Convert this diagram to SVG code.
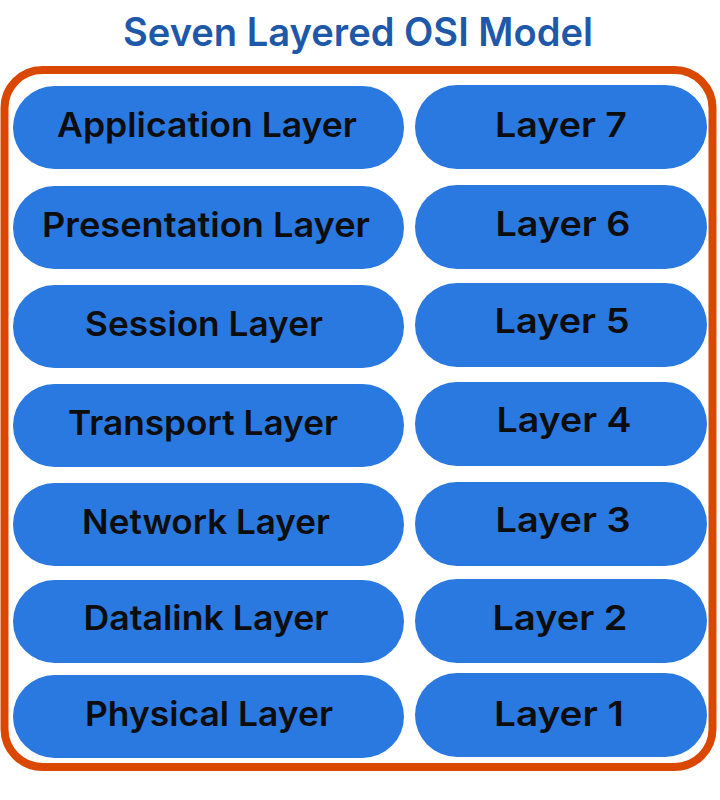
<svg xmlns="http://www.w3.org/2000/svg" width="720" height="800" viewBox="0 0 720 800">
<style>
.pill{fill:#2979e1;}
.lbl{font-family:Inter,Roboto,"Liberation Sans",sans-serif;font-weight:600;font-size:34px;fill:#0d0d0d;text-anchor:middle;}
.title{font-family:Inter,Roboto,"Liberation Sans",sans-serif;font-weight:600;font-size:39px;fill:#1e59a9;text-anchor:middle;}
</style>
<rect width="720" height="800" fill="#ffffff"/>
<text class="title" x="358" y="46" textLength="470" lengthAdjust="spacingAndGlyphs">Seven Layered OSI Model</text>
<rect id="frame" x="4.5" y="70" width="708" height="697" rx="38" fill="none" stroke="#da4800" stroke-width="8"/>
<g id="connectors"/>
<g id="application"><rect class="pill" x="13" y="86" width="391" height="83" rx="41.5"/><text class="lbl" x="207" y="137" textLength="300" lengthAdjust="spacingAndGlyphs">Application Layer</text></g>
<g id="presentation"><rect class="pill" x="13" y="186" width="391" height="83" rx="41.5"/><text class="lbl" x="206" y="237" textLength="328" lengthAdjust="spacingAndGlyphs">Presentation Layer</text></g>
<g id="session"><rect class="pill" x="13" y="285" width="391" height="83" rx="41.5"/><text class="lbl" x="204" y="336" textLength="238" lengthAdjust="spacingAndGlyphs">Session Layer</text></g>
<g id="transport"><rect class="pill" x="13" y="384" width="391" height="83" rx="41.5"/><text class="lbl" x="203" y="435" textLength="270" lengthAdjust="spacingAndGlyphs">Transport Layer</text></g>
<g id="network"><rect class="pill" x="13" y="483" width="391" height="83" rx="41.5"/><text class="lbl" x="206" y="534" textLength="248" lengthAdjust="spacingAndGlyphs">Network Layer</text></g>
<g id="datalink"><rect class="pill" x="13" y="580" width="391" height="83" rx="41.5"/><text class="lbl" x="206" y="630" textLength="245" lengthAdjust="spacingAndGlyphs">Datalink Layer</text></g>
<g id="physical"><rect class="pill" x="13" y="675" width="391" height="83" rx="41.5"/><text class="lbl" x="209" y="726" textLength="248" lengthAdjust="spacingAndGlyphs">Physical Layer</text></g>
<g id="layer7"><rect class="pill" x="415" y="85" width="292" height="84" rx="42"/><text class="lbl" x="561" y="137" textLength="132" lengthAdjust="spacingAndGlyphs">Layer 7</text></g>
<g id="layer6"><rect class="pill" x="415" y="185" width="292" height="84" rx="42"/><text class="lbl" x="563" y="236" textLength="135" lengthAdjust="spacingAndGlyphs">Layer 6</text></g>
<g id="layer5"><rect class="pill" x="415" y="283" width="292" height="84" rx="42"/><text class="lbl" x="562" y="333" textLength="135" lengthAdjust="spacingAndGlyphs">Layer 5</text></g>
<g id="layer4"><rect class="pill" x="415" y="382" width="292" height="84" rx="42"/><text class="lbl" x="564" y="432" textLength="135" lengthAdjust="spacingAndGlyphs">Layer 4</text></g>
<g id="layer3"><rect class="pill" x="415" y="482" width="292" height="84" rx="42"/><text class="lbl" x="563" y="532" textLength="135" lengthAdjust="spacingAndGlyphs">Layer 3</text></g>
<g id="layer2"><rect class="pill" x="415" y="579" width="292" height="84" rx="42"/><text class="lbl" x="560" y="630" textLength="135" lengthAdjust="spacingAndGlyphs">Layer 2</text></g>
<g id="layer1"><rect class="pill" x="415" y="673" width="292" height="84" rx="42"/><text class="lbl" x="559" y="726" textLength="130" lengthAdjust="spacingAndGlyphs">Layer 1</text></g>
</svg>
